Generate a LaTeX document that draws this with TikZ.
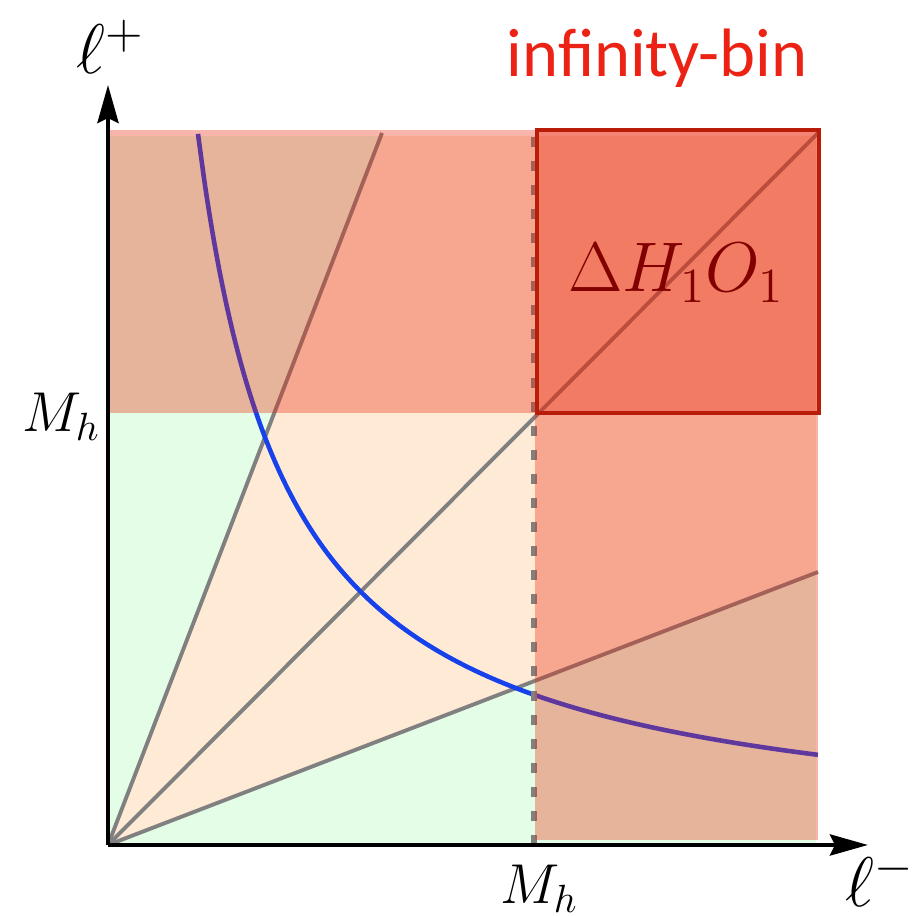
\documentclass[tikz,border=0pt]{standalone}
\usepackage{fix-cm}
\usepackage{fontspec}
\usepackage{tikz}
\usetikzlibrary{arrows.meta}
\newfontfamily\binfont{Carlito}
\definecolor{figGreen}{RGB}{228,253,230}
\definecolor{figPeach}{RGB}{254,234,213}
\definecolor{figRed}{RGB}{235,40,14}
\definecolor{figBlue}{RGB}{22,65,235}
\definecolor{figDark}{RGB}{185,28,8}
\definecolor{figText}{RGB}{236,34,20}
\definecolor{figLabel}{RGB}{130,0,0}
\tikzset{rayline/.style={line width=1.1pt, gray},
  binfill/.style={fill=figRed, fill opacity=0.345},
  axisline/.style={line width=1.3pt, -{Stealth[length=3.8mm, width=2.1mm, inset=0.5mm]}},
  biglabel/.style={font=\fontsize{20}{24}\selectfont, anchor=base west, inner sep=0pt},
  mhlabel/.style={font=\fontsize{16}{19}\selectfont, anchor=base west, inner sep=0pt}}

\begin{document}
\begin{tikzpicture}
\useasboundingbox (-1.08,-0.71) rectangle (8.16,8.45);
\coordinate (O) at (0,0);
\coordinate (Xend) at (7.6,0);
\coordinate (Yend) at (0,7.6);
% rays leaving the origin
\coordinate (Rs) at (2.74,7.12);
\coordinate (Rd) at (7.10,7.12);
\coordinate (Rf) at (7.10,2.73);
% M_h on both axes
\coordinate (Mx) at (4.26,0);
\coordinate (Mtop) at (4.26,7.10);
% base regions: green outside the wedge, peach inside it
\fill[figGreen] (O) rectangle (7.08,7.09);
\fill[figPeach] (O) -- (2.727,7.09) -- (7.08,7.09) -- (7.08,2.722) -- cycle;
\draw[rayline] (O) -- (Rs);
\draw[rayline] (O) -- (Rd);
\draw[rayline] (O) -- (Rf);
% level curve l^+ l^- = const
\draw[figBlue, line width=1.3pt, domain=0.9:7.1, samples=90, smooth] plot (\x,{6.4/\x});
\draw[gray, line width=1.9pt, dash pattern=on 2.85pt off 4pt] (Mx) -- (Mtop);
% infinity-bin strips, their overlap is the corner square
\fill[binfill] (0,4.32) rectangle (7.10,7.15);
\fill[binfill] (4.27,0.05) rectangle (7.10,7.15);
\draw[figDark, line width=1.4pt] (4.29,4.32) rectangle (7.11,7.15);
\node[biglabel, text=figLabel] (dho) at (4.60,5.53) {$\Delta H_1O_1$};
% axes
\draw[axisline] (O) -- (Xend);
\draw[axisline] (O) -- (Yend);
\node[biglabel] (lplus) at (-0.32,7.71) {$\ell^+$};
\node[biglabel] (lminus) at (7.37,-0.62) {$\ell^-$};
\node[mhlabel] (mhy) at (-0.86,4.13) {$M_h$};
\node[mhlabel] (mhx) at (3.92,-0.59) {$M_h$};
\node[font=\binfont\fontsize{19.5}{23}\selectfont, text=figText, anchor=base west, inner sep=0pt] (ibin) at (3.98,7.68) {infinity-bin};
\end{tikzpicture}
\end{document}
